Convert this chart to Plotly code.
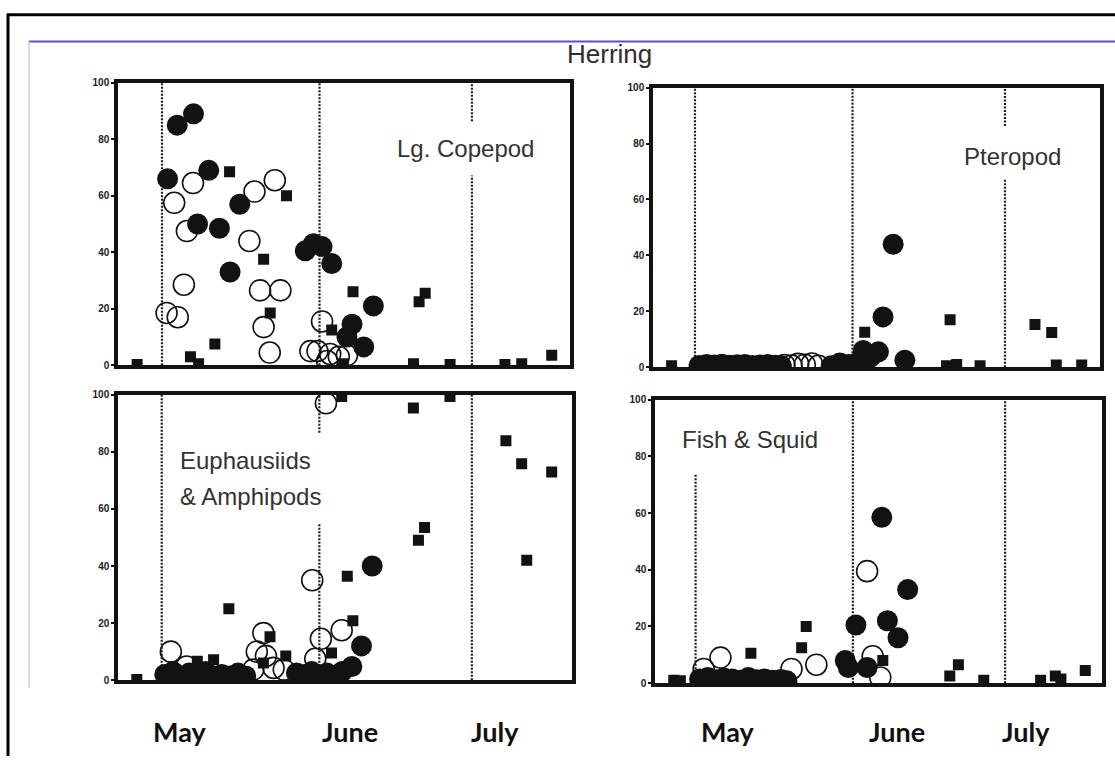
import plotly.graph_objects as go

W, H = 1115, 760

# ---------------- data: day of season (0 = 1 May) and percent of diet ----------------
title_text = "Herring"
month_names = ["May", "June", "July"]
month_start_day = [0, 31, 61]
y_tick_values = [0, 20, 40, 60, 80, 100]

copepod_label = ["Lg. Copepod"]
copepod_solid_day = [1.1, 3.0, 6.2, 9.2, 7.0, 11.3, 15.3, 13.4, 28.2, 29.8, 31.5, 33.4, 41.6, 37.4, 36.4, 39.7]
copepod_solid_pct = [66, 85, 89, 69, 50, 48.5, 57, 33, 40.5, 43, 42, 36, 21, 14.5, 10, 6.5]
copepod_open_day = [6.1, 2.4, 4.9, 18.2, 22.2, 17.2, 4.3, 19.3, 23.3, 0.9, 3.1, 20.0, 21.2, 31.5, 29.2, 30.6, 33.1, 34.8, 36.4, 32.5]
copepod_open_pct = [64.5, 57.5, 47.5, 61.5, 65.5, 44, 28.5, 26.5, 26.5, 18.5, 17, 13.5, 4.5, 15.5, 5, 5, 4, 3, 3.5, 1.5]
copepod_square_day = [-4.9, 5.6, 7.2, 10.4, 13.3, 20.0, 21.3, 24.5, 33.4, 35.7, 37.6, 49.5, 50.6, 51.8, 56.7, 67.5, 70.8, 76.7]
copepod_square_pct = [0.3, 3, 0.5, 7.5, 68.5, 37.5, 18.5, 60, 12.5, 0.5, 26, 0.5, 22.5, 25.5, 0.3, 0.3, 0.5, 3.5]

ptero_label = ["Pteropod"]
ptero_solid_day = [0.8, 2.3, 3.8, 5.3, 6.8, 8.3, 9.8, 11.3, 12.8, 14.3, 15.8, 17.0, 26.8, 28.5, 30.2, 31.8, 33.1, 34.5, 36.1, 37.0, 39.0, 41.3]
ptero_solid_pct = [0.6, 1.0, 0.8, 1.1, 0.7, 0.9, 1.0, 0.6, 0.8, 1.0, 0.7, 0.5, 0.5, 1.5, 1.0, 1.5, 6.0, 3.5, 5.5, 18, 44, 2.5]
ptero_open_day = [17.6, 19.0, 20.3, 21.6, 23.0, 24.3]
ptero_open_pct = [0.8, 0.6, 1.2, 0.9, 1.3, 0.5]
ptero_square_day = [-4.6, 33.4, 34.0, 49.5, 50.2, 51.5, 56.1, 66.9, 70.2, 71.1, 76.1]
ptero_square_pct = [0.5, 12.5, 4.0, 0.5, 17, 1.0, 0.5, 15.3, 12.4, 0.8, 0.8]

euph_label = ["Euphausiids", "& Amphipods"]
euph_solid_day = [0.6, 2.2, 3.8, 5.4, 7.0, 8.6, 10.2, 11.8, 13.4, 15.0, 16.5, 26.5, 28.0, 29.5, 31.0, 32.5, 34.0, 35.5, 37.4, 39.3, 41.4]
euph_solid_pct = [2.0, 3.0, 1.5, 2.5, 2.0, 3.0, 1.5, 2.0, 1.5, 2.5, 1.5, 2.5, 2.0, 3.0, 2.0, 2.5, 1.5, 3.0, 4.8, 12, 40]
euph_open_day = [1.8, 4.9, 18.0, 18.7, 20.0, 20.5, 22.0, 24.0, 29.6, 30.2, 31.3, 32.3, 35.4]
euph_open_pct = [10, 4.8, 3.7, 10, 16.5, 8.5, 4.3, 3.7, 35, 7.5, 14.5, 97, 17.5]
euph_square_day = [-4.9, 7.0, 10.2, 13.2, 20.0, 21.3, 24.4, 33.4, 35.4, 36.5, 37.6, 49.5, 50.5, 51.7, 56.7, 67.7, 70.8, 71.8, 76.7]
euph_square_pct = [0.2, 6.6, 7.2, 25, 6.0, 15.2, 8.5, 9.5, 99.4, 36.4, 20.8, 95.4, 49, 53.5, 99.4, 83.9, 75.8, 42, 72.9]

fish_label = ["Fish & Squid"]
fish_solid_day = [0.8, 2.4, 4.0, 5.6, 7.2, 8.8, 10.4, 12.0, 13.6, 15.2, 16.8, 18.0, 29.5, 30.1, 31.6, 33.8, 36.7, 37.8, 39.9, 41.8]
fish_solid_pct = [1.5, 2.0, 1.2, 1.8, 1.5, 1.0, 2.0, 1.2, 1.5, 1.0, 1.3, 0.8, 8, 5.5, 20.5, 5.5, 58.5, 22, 16, 33]
fish_open_day = [1.6, 4.9, 18.9, 23.8, 33.8, 34.9, 36.4]
fish_open_pct = [5, 9, 5, 6.5, 39.5, 9.5, 2]
fish_square_day = [-4.3, -3.0, 10.9, 20.9, 21.8, 36.9, 50.1, 51.8, 56.8, 68.0, 70.9, 72.0, 76.8]
fish_square_pct = [1.0, 0.8, 10.5, 12.5, 20, 8, 2.5, 6.5, 1.0, 1.0, 2.5, 1.5, 4.5]


# ---------------- layout helpers (pixel -> paper) ----------------
def px(x):
    return x / W


def py(y):
    return 1 - y / H


INK = "#121212"
TEXT = "#333333"

# each panel: series, pixel box (left, top, right, bottom), x range,
# label placement, and the dotted month lines with their visible y-segments
panels = [
    dict(solid=(copepod_solid_day, copepod_solid_pct),
         open=(copepod_open_day, copepod_open_pct),
         square=(copepod_square_day, copepod_square_pct),
         box=(118, 78, 570, 365), xr=[-8.66, 80.3],
         label=copepod_label, label_xy=[(395, 145)],
         segments=[[(0, 100)], [(0, 100)], [(0, 67.2), (86.4, 100)]]),
    dict(solid=(ptero_solid_day, ptero_solid_pct),
         open=(ptero_open_day, ptero_open_pct),
         square=(ptero_square_day, ptero_square_pct),
         box=(653, 83, 1100, 367), xr=[-8.26, 79.7],
         label=ptero_label, label_xy=[(962, 153)],
         segments=[[(0, 100)], [(0, 100)], [(0, 67.5), (86.3, 100)]]),
    dict(solid=(euph_solid_day, euph_solid_pct),
         open=(euph_open_day, euph_open_pct),
         square=(euph_square_day, euph_square_pct),
         box=(118, 395, 572, 685), xr=[-8.6, 80.7],
         label=euph_label, label_xy=[(178, 462), (178, 498)],
         segments=[[(0, 100)], [(0, 55), (86.7, 100)], [(0, 100)]]),
    dict(solid=(fish_solid_day, fish_solid_pct),
         open=(fish_open_day, fish_open_pct),
         square=(fish_square_day, fish_square_pct),
         box=(655, 400, 1102, 688), xr=[-8.0, 80.1],
         label=fish_label, label_xy=[(680, 440)],
         segments=[[(0, 74)], [(0, 100)], [(0, 100)]]),
]

fig = go.Figure()
shapes = []
annotations = []
layout_axes = {}

for i, p in enumerate(panels, start=1):
    sfx = "" if i == 1 else str(i)
    xa, ya = "x" + sfx, "y" + sfx
    l, t, r, b = p["box"]

    layout_axes["xaxis" + sfx] = dict(
        domain=[px(l), px(r)], range=p["xr"], anchor=ya,
        showline=True, linewidth=3.5, linecolor=INK, mirror=True,
        showgrid=False, zeroline=False, showticklabels=False, ticks="",
        fixedrange=True,
    )
    layout_axes["yaxis" + sfx] = dict(
        domain=[py(b), py(t)], range=[0, 100], anchor=xa,
        showline=True, linewidth=3.5, linecolor=INK, mirror=True,
        showgrid=False, zeroline=False,
        tickvals=y_tick_values, ticks="outside", ticklen=3, tickwidth=1.5,
        tickcolor=INK,
        tickfont=dict(family="Liberation Sans Narrow, Arial, sans-serif",
                      size=10, color="#222222", weight=700),
        fixedrange=True,
    )

    # open circles first, then filled circles, then squares on top
    od, op = p["open"]
    fig.add_trace(go.Scatter(
        x=od, y=op, mode="markers", xaxis=xa, yaxis=ya, showlegend=False,
        marker=dict(symbol="circle-open", size=21, color=INK,
                    line=dict(width=1.6, color=INK)),
    ))
    sd, sp = p["solid"]
    fig.add_trace(go.Scatter(
        x=sd, y=sp, mode="markers", xaxis=xa, yaxis=ya, showlegend=False,
        marker=dict(symbol="circle", size=21, color=INK, line=dict(width=0)),
    ))
    qd, qp = p["square"]
    fig.add_trace(go.Scatter(
        x=qd, y=qp, mode="markers", xaxis=xa, yaxis=ya, showlegend=False,
        marker=dict(symbol="square", size=11, color=INK, line=dict(width=0)),
    ))

    # dotted month boundaries
    for day, segs in zip(month_start_day, p["segments"]):
        for y0, y1 in segs:
            shapes.append(dict(
                type="line", xref=xa, yref=ya, x0=day, x1=day, y0=y0, y1=y1,
                line=dict(color="#1e1e1e", width=2.2, dash="2px,1.5px"), layer="below",
            ))

    # prey group label
    for text, (lx, ly) in zip(p["label"], p["label_xy"]):
        annotations.append(dict(
            text=text, xref="paper", yref="paper", x=px(lx), y=py(ly),
            xanchor="left", yanchor="middle", showarrow=False,
            font=dict(family="Liberation Sans, Arial, sans-serif", size=24, color=TEXT),
        ))

# month names under each column of panels
month_label_x = [[179, 350, 495], [727, 897, 1026]]
for xs in month_label_x:
    for name, mx in zip(month_names, xs):
        annotations.append(dict(
            text=name, xref="paper", yref="paper", x=px(mx), y=py(737),
            xanchor="center", yanchor="middle", showarrow=False,
            font=dict(family="Lato, Open Sans, sans-serif", size=27,
                      color="#111111", weight=700),
        ))

# heading
annotations.append(dict(
    text=title_text, xref="paper", yref="paper", x=px(609), y=py(49),
    xanchor="center", yanchor="middle", showarrow=False,
    font=dict(family="Liberation Sans, Arial, sans-serif", size=26, color="#2e2e2e"),
))

# slide frame: black outer border and blue header rule
shapes += [
    dict(type="line", xref="paper", yref="paper", x0=px(8), x1=px(8),
         y0=py(8), y1=py(H + 2), line=dict(color="#000000", width=3)),
    dict(type="line", xref="paper", yref="paper", x0=px(7), x1=px(W + 2),
         y0=py(9), y1=py(9), line=dict(color="#000000", width=3)),
    dict(type="line", xref="paper", yref="paper", x0=px(29), x1=px(W + 2),
         y0=py(36), y1=py(36), line=dict(color="#5b50c8", width=2)),
    dict(type="line", xref="paper", yref="paper", x0=px(29), x1=px(29),
         y0=py(36), y1=py(693), line=dict(color="#b4b2e2", width=1)),
]

fig.update_layout(
    width=W, height=H,
    margin=dict(l=0, r=0, t=0, b=0),
    paper_bgcolor="white", plot_bgcolor="white",
    showlegend=False,
    shapes=shapes, annotations=annotations,
    **layout_axes,
)

fig.write_html("out.html", config={"displayModeBar": False})
